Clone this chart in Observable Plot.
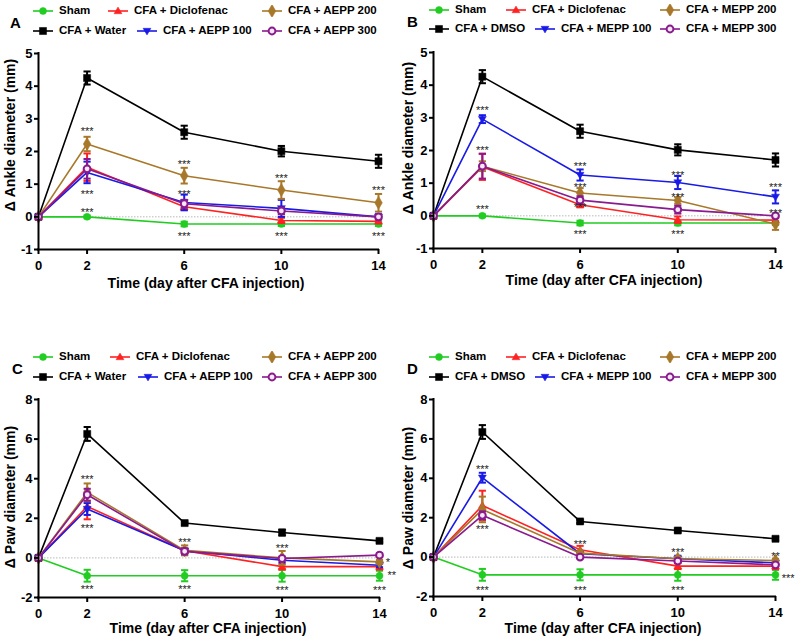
<!DOCTYPE html>
<html><head><meta charset="utf-8">
<script src="https://cdn.jsdelivr.net/npm/d3@7"></script>
<script src="https://cdn.jsdelivr.net/npm/@observablehq/plot@0.6"></script>
<style>
body{margin:0;background:#fff;}
#fig{position:relative;width:800px;height:639px;overflow:hidden;font-family:"Liberation Sans",Arial,sans-serif;font-weight:bold;color:#000;background:#fff;}
.panel{position:absolute;width:400px;height:320px;}
.panel > svg{position:absolute;left:0;top:0;}
.leg{position:absolute;height:12px;display:flex;align-items:center;font-size:11.5px;white-space:nowrap;line-height:1;}
.leg svg{margin-right:6px;flex:none;}
.letter{position:absolute;font-size:15px;line-height:1;}
.xt,.yt{position:absolute;font-size:14px;white-space:nowrap;line-height:1;}
.xt{transform:translate(-50%,-50%);}
.yt{transform:translate(-50%,-50%) rotate(-90deg);}
</style></head><body><div id="fig"></div>
<script>
// ---------- data ----------
const days = [0, 2, 6, 10, 14];
const groupsAEPP = ["Sham", "CFA + Water", "CFA + Diclofenac", "CFA + AEPP 100", "CFA + AEPP 200", "CFA + AEPP 300"];
const groupsMEPP = ["Sham", "CFA + DMSO", "CFA + Diclofenac", "CFA + MEPP 100", "CFA + MEPP 200", "CFA + MEPP 300"];
const ticksAnkle = [-1, 0, 1, 2, 3, 4, 5];
const ticksPaw = [-2, 0, 2, 4, 6, 8];
const xLabel = "Time (day after CFA injection)";
const yLabelAnkle = "Δ Ankle diameter (mm)";
const yLabelPaw = "Δ Paw diameter (mm)";

// Panel A: ankle, AEPP
const meanA = [
  [0, 0, -0.22, -0.22, -0.22],
  [0, 4.25, 2.59, 2.01, 1.70],
  [0, 1.52, 0.31, -0.11, -0.14],
  [0, 1.36, 0.44, 0.26, 0.0],
  [0, 2.23, 1.26, 0.82, 0.43],
  [0, 1.47, 0.40, 0.18, 0.0]
];
const semA = [
  [0, 0.04, 0.07, 0.06, 0.06],
  [0, 0.2, 0.2, 0.16, 0.2],
  [0, 0.42, 0.1, 0.08, 0.06],
  [0, 0.33, 0.24, 0.26, 0.08],
  [0, 0.22, 0.24, 0.27, 0.27],
  [0, 0.3, 0.12, 0.1, 0.05]
];
const starsA = [[2, 2.69, "***"], [2, 0.78, "***"], [2, 0.22, "***"], [6, 1.68, "***"], [6, 0.77, "***"], [6, -0.52, "***"], [10, 1.28, "***"], [10, -0.52, "***"], [14, 0.89, "***"], [14, -0.52, "***"]];

// Panel B: ankle, MEPP
const meanB = [
  [0, 0, -0.22, -0.22, -0.22],
  [0, 4.26, 2.59, 2.02, 1.71],
  [0, 1.5, 0.34, -0.12, -0.13],
  [0, 2.96, 1.25, 1.02, 0.58],
  [0, 1.52, 0.70, 0.47, -0.25],
  [0, 1.52, 0.48, 0.19, 0.0]
];
const semB = [
  [0, 0.04, 0.07, 0.07, 0.06],
  [0, 0.2, 0.2, 0.17, 0.2],
  [0, 0.4, 0.08, 0.1, 0.06],
  [0, 0.12, 0.17, 0.2, 0.2],
  [0, 0.15, 0.15, 0.1, 0.18],
  [0, 0.38, 0.12, 0.12, 0.05]
];
const starsB = [[2, 3.31, "***"], [2, 2.1, "***"], [2, 0.3, "***"], [6, 1.6, "***"], [6, 0.96, "***"], [6, 0.36, "***"], [6, -0.48, "***"], [10, 1.32, "***"], [10, 0.66, "***"], [10, -0.48, "***"], [14, 0.97, "***"], [14, 0.17, "***"]];

// Panel C: paw, AEPP
const meanC = [
  [0, -0.9, -0.9, -0.9, -0.9],
  [0, 6.26, 1.76, 1.28, 0.86],
  [0, 2.6, 0.36, -0.44, -0.44],
  [0, 2.47, 0.36, -0.12, -0.37],
  [0, 3.31, 0.38, 0.0, -0.2],
  [0, 3.19, 0.33, -0.03, 0.14]
];
const semC = [
  [0, 0.3, 0.28, 0.3, 0.25],
  [0, 0.35, 0.08, 0.15, 0.08],
  [0, 0.65, 0.1, 0.15, 0.15],
  [0, 0.3, 0.1, 0.1, 0.1],
  [0, 0.45, 0.25, 0.35, 0.1],
  [0, 0.3, 0.15, 0.1, 0.1]
];
const starsC = [[2, 4.11, "***"], [2, 1.65, "***"], [2, -1.45, "***"], [6, 0.95, "***"], [6, -1.45, "***"], [10, 0.65, "***"], [10, -1.5, "***"], [14, -1.5, "***"], [14.34, -0.08, "*"], [14.5, -0.72, "**"]];

// Panel D: paw, MEPP
const meanD = [
  [0, -0.9, -0.9, -0.9, -0.9],
  [0, 6.35, 1.81, 1.35, 0.93],
  [0, 2.62, 0.37, -0.46, -0.46],
  [0, 4.03, 0.17, -0.08, -0.29],
  [0, 2.42, 0.2, -0.08, -0.17],
  [0, 2.12, 0.0, -0.2, -0.39]
];
const semD = [
  [0, 0.3, 0.28, 0.3, 0.25],
  [0, 0.35, 0.08, 0.08, 0.08],
  [0, 0.75, 0.2, 0.15, 0.15],
  [0, 0.25, 0.08, 0.15, 0.08],
  [0, 0.65, 0.1, 0.1, 0.08],
  [0, 0.2, 0.06, 0.08, 0.08]
];
const starsD = [[2, 4.62, "***"], [2, 1.56, "***"], [2, -1.52, "***"], [6, 0.81, "***"], [6, -1.52, "***"], [10, 0.39, "***"], [10, -1.52, "***"], [14, 0.2, "**"], [14.52, -0.92, "***"]];

// ---------- styles ----------
const colors = ["#22cc22", "#000000", "#ff2222", "#1a1ae6", "#a8782a", "#8a1a8e"];
const capSym = {draw(ctx, size) { const h = Math.sqrt(size / Math.PI); ctx.moveTo(-h, 0); ctx.lineTo(h, 0); }};
const triUp = {draw(ctx, size) { const r = Math.sqrt(size / Math.PI); ctx.moveTo(0, -r * 1.1); ctx.lineTo(r * 1.1, r * 0.75); ctx.lineTo(-r * 1.1, r * 0.75); ctx.closePath(); }};
const triDown = {draw(ctx, size) { const r = Math.sqrt(size / Math.PI); ctx.moveTo(0, r * 1.1); ctx.lineTo(r * 1.1, -r * 0.75); ctx.lineTo(-r * 1.1, -r * 0.75); ctx.closePath(); }};
const markerStyle = [
  {symbol: "circle", r: 3.5, fill: colors[0], stroke: colors[0], strokeWidth: 0.5},
  {symbol: d3.symbolSquare, r: 4, fill: colors[1], stroke: colors[1], strokeWidth: 0.5},
  {symbol: triUp, r: 3.6, fill: colors[2], stroke: colors[2], strokeWidth: 0.5},
  {symbol: triDown, r: 3.6, fill: colors[3], stroke: colors[3], strokeWidth: 0.5},
  {symbol: d3.symbolDiamond, r: 4, fill: colors[4], stroke: colors[4], strokeWidth: 0.5},
  {symbol: "circle", r: 3.4, fill: "#f4e8f4", stroke: colors[5], strokeWidth: 2}
];

// ---------- layout ----------
const panels = [
  {id: "A", left: 0, top: 0, m: [53, 22, 71, 38], yDomain: [-1, 5], yTicks: ticksAnkle, ylabel: yLabelAnkle,
   groups: groupsAEPP, mean: meanA, sem: semA, stars: starsA,
   letterPos: [10, 15], ylabPos: [10, 135], xlabPos: [206, 283],
   legPos: [[33, 11], [33, 31], [108, 11], [137, 31], [262, 11], [262, 31]]},
  {id: "B", left: 400, top: 0, m: [52, 25, 72, 33], yDomain: [-1, 5], yTicks: ticksAnkle, ylabel: yLabelAnkle,
   groups: groupsMEPP, mean: meanB, sem: semB, stars: starsB,
   letterPos: [7, 14], ylabPos: [8, 138], xlabPos: [204, 280],
   legPos: [[29, 10], [29, 29], [106, 10], [135, 29], [260, 10], [260, 29]]},
  {id: "C", left: 0, top: 320, m: [79, 21, 43, 38], yDomain: [-2, 8], yTicks: ticksPaw, ylabel: yLabelPaw,
   groups: groupsAEPP, mean: meanC, sem: semC, stars: starsC,
   letterPos: [12, 41], ylabPos: [10, 177], xlabPos: [208, 308],
   legPos: [[33, 37], [33, 57], [110, 37], [138, 57], [262, 37], [262, 57]]},
  {id: "D", left: 400, top: 320, m: [79, 25, 44, 33], yDomain: [-2, 8], yTicks: ticksPaw, ylabel: yLabelPaw,
   groups: groupsMEPP, mean: meanD, sem: semD, stars: starsD,
   letterPos: [7, 41], ylabPos: [8, 178], xlabPos: [203, 308],
   legPos: [[29, 37], [29, 57], [106, 37], [135, 57], [260, 37], [260, 57]]}
];

const fig = document.getElementById("fig");

function swatch(i) {
  const svg = d3.create("svg").attr("width", 20).attr("height", 12);
  svg.append("line").attr("x1", 0).attr("x2", 20).attr("y1", 6).attr("y2", 6)
    .attr("stroke", colors[i]).attr("stroke-width", 1.6);
  const ms = markerStyle[i];
  const type = ms.symbol === "circle" ? d3.symbolCircle : ms.symbol;
  svg.append("path").attr("transform", "translate(10,6)")
    .attr("d", d3.symbol(type, ms.r * ms.r * Math.PI)())
    .attr("fill", ms.fill).attr("stroke", ms.stroke).attr("stroke-width", ms.strokeWidth);
  return svg.node();
}

for (const p of panels) {
  const div = document.createElement("div");
  div.className = "panel";
  div.style.left = p.left + "px";
  div.style.top = p.top + "px";
  fig.appendChild(div);

  const marks = [
    Plot.ruleY([0], {x1: days[0], x2: days[days.length - 1], stroke: "#b8b8b8", strokeWidth: 1, strokeDasharray: "1.5,1.5"})
  ];
  p.groups.forEach((g, i) => {
    const rows = days.map((d, j) => ({day: d, y: p.mean[i][j], sem: p.sem[i][j]}));
    const err = rows.filter(r => r.sem > 0);
    const c = colors[i];
    marks.push(
      Plot.line(rows, {x: "day", y: "y", stroke: c, strokeWidth: 1.6}),
      Plot.ruleX(err, {x: "day", y1: r => r.y - r.sem, y2: r => r.y + r.sem, stroke: c, strokeWidth: 2}),
      Plot.dot(err, {x: "day", y: r => r.y + r.sem, symbol: capSym, r: 3.6, stroke: c, strokeWidth: 2, fill: "none"}),
      Plot.dot(err, {x: "day", y: r => r.y - r.sem, symbol: capSym, r: 3.6, stroke: c, strokeWidth: 2, fill: "none"}),
      Plot.dot(rows, {x: "day", y: "y", ...markerStyle[i]})
    );
  });
  marks.push(
    Plot.text(p.stars, {x: d => d[0], y: d => d[1], text: d => d[2], fontSize: 11, fontWeight: "normal", fill: "#222", dy: 3}),
    Plot.ruleX([days[0]], {y1: p.yDomain[0], y2: p.yDomain[1], strokeWidth: 2, strokeLinecap: "square"}),
    Plot.ruleY([p.yDomain[0]], {x1: days[0], x2: days[days.length - 1], strokeWidth: 2, strokeLinecap: "square"}),
    Plot.axisX(days, {tickSize: 5, tickPadding: 6, strokeWidth: 2, label: null, tickFormat: d => String(d)}),
    Plot.axisY(p.yTicks, {tickSize: 4, tickPadding: 2, strokeWidth: 2, label: null, tickFormat: d => String(d)})
  );

  const chart = Plot.plot({
    width: 400, height: 320,
    marginTop: p.m[0], marginRight: p.m[1], marginBottom: p.m[2], marginLeft: p.m[3],
    x: {domain: [days[0], days[days.length - 1]]},
    y: {domain: p.yDomain},
    style: {fontFamily: "'Liberation Sans', Arial, sans-serif", fontSize: "13px", fontWeight: "bold", color: "#000", background: "transparent", overflow: "visible"},
    marks
  });
  div.appendChild(chart);

  // legend
  p.groups.forEach((g, i) => {
    const item = document.createElement("div");
    item.className = "leg";
    item.style.left = p.legPos[i][0] + "px";
    item.style.top = (p.legPos[i][1] - 6) + "px";
    item.appendChild(swatch(i));
    const t = document.createElement("span");
    t.textContent = g;
    item.appendChild(t);
    div.appendChild(item);
  });

  const letter = document.createElement("div");
  letter.className = "letter";
  letter.textContent = p.id;
  letter.style.left = p.letterPos[0] + "px";
  letter.style.top = p.letterPos[1] + "px";
  div.appendChild(letter);

  const xt = document.createElement("div");
  xt.className = "xt";
  xt.textContent = xLabel;
  xt.style.left = p.xlabPos[0] + "px";
  xt.style.top = p.xlabPos[1] + "px";
  div.appendChild(xt);

  const yt = document.createElement("div");
  yt.className = "yt";
  yt.textContent = p.ylabel;
  yt.style.left = p.ylabPos[0] + "px";
  yt.style.top = p.ylabPos[1] + "px";
  div.appendChild(yt);
}
</script>
</body></html>
